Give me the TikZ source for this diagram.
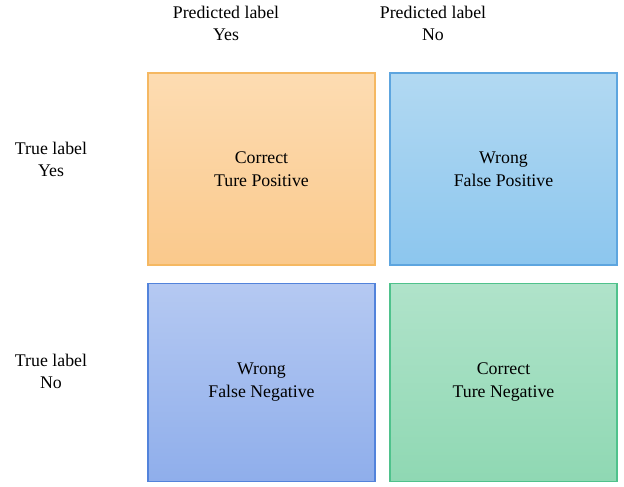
\documentclass[tikz,border=0pt]{standalone}
\usepackage{fontspec}
\setmainfont{Liberation Serif}
\definecolor{orTop}{HTML}{FDDCB2}
\definecolor{orBot}{HTML}{FAC98C}
\definecolor{orLine}{HTML}{F5B862}
\definecolor{blTop}{HTML}{B2D9F2}
\definecolor{blBot}{HTML}{8CC6EE}
\definecolor{blLine}{HTML}{5DA5DF}
\definecolor{ibTop}{HTML}{B5C9F2}
\definecolor{ibBot}{HTML}{8FAEEB}
\definecolor{ibLine}{HTML}{5283DB}
\definecolor{grTop}{HTML}{B0E3CA}
\definecolor{grBot}{HTML}{8FD8B3}
\definecolor{grLine}{HTML}{4FC28C}
\tikzset{
  cell/.style={rectangle, line width=1.2pt, inner sep=0pt, align=center,
    font=\fontsize{17.8}{23}\selectfont},
  hdr/.style={align=center, inner sep=0pt, font=\fontsize{17.8}{22}\selectfont}
}
\begin{document}
\begin{tikzpicture}[x=1pt,y=-1pt]
\useasboundingbox (0,0) rectangle (624,487);
\node[cell, draw=orLine, top color=orTop, bottom color=orBot,
  minimum width=227pt, minimum height=192pt] (tp) at (261.5,169) {Correct\\Ture Positive};
\node[cell, draw=blLine, top color=blTop, bottom color=blBot,
  minimum width=227pt, minimum height=192pt] (fp) at (503.5,169) {Wrong\\False Positive};
\node[cell, draw=ibLine, top color=ibTop, bottom color=ibBot,
  minimum width=227pt, minimum height=198pt] (fn) at (261.5,382.5) {Wrong\\False Negative};
\node[cell, draw=grLine, top color=grTop, bottom color=grBot,
  minimum width=227pt, minimum height=198pt] (tn) at (503.5,382.5) {Correct\\Ture Negative};
\node[hdr] (py) at (226,23) {Predicted label\\Yes};
\node[hdr] (pn) at (433,23) {Predicted label\\No};
\node[hdr] (ty) at (51,159) {True label\\Yes};
\node[hdr] (tnl) at (51,371) {True label\\No};
\end{tikzpicture}
\end{document}
